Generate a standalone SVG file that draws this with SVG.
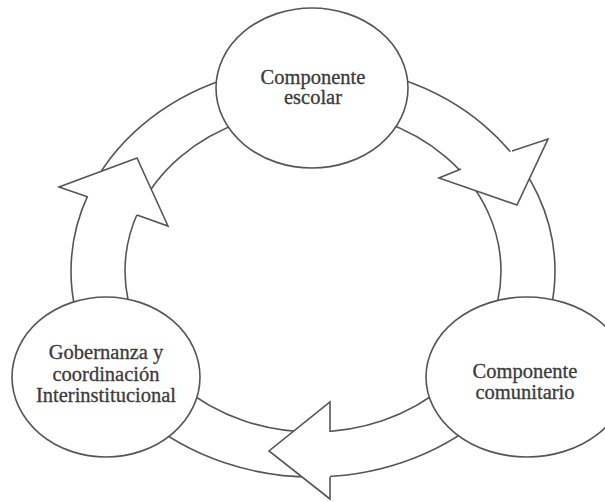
<svg xmlns="http://www.w3.org/2000/svg" width="605" height="502" viewBox="0 0 605 502">
  <style>
    .ring { fill: none; stroke: #555; stroke-width: 1.6; }
    .head { fill: #fff; stroke: #555; stroke-width: 1.6; stroke-linejoin: miter; }
    .node { fill: #fff; stroke: #555; stroke-width: 1.6; }
    text { font-family: 'Liberation Serif', 'DejaVu Serif', serif; font-size: 20.5px; fill: #3a3a3a; text-anchor: middle; stroke: #3a3a3a; stroke-width: 0.3; }
  </style>
  <rect width="605" height="502" fill="#fff"/>
  <g id="connectors">
    <ellipse class="ring" cx="313" cy="271" rx="242" ry="206"/>
    <ellipse class="ring" cx="313" cy="271" rx="188" ry="161"/>
    <path id="arrow-escolar-comunitario" class="head" d="M512,151 L548,139 L517,205 L439,178 L461,169"/>
    <path id="arrow-comunitario-gobernanza" class="head" d="M330,432 L330,402 L269,451 L330,499 L330,477"/>
    <path id="arrow-gobernanza-escolar" class="head" d="M88,197 L59,187 L137,158 L168,226 L137,215"/>
  </g>
  <g id="node-escolar">
    <ellipse class="node" cx="312" cy="88" rx="96" ry="80"/>
    <text x="313" y="84" font-family="Liberation Serif, serif">Componente</text>
    <text x="313" y="104" font-family="Liberation Serif, serif">escolar</text>
  </g>
  <g id="node-comunitario">
    <ellipse class="node" cx="527" cy="377" rx="101" ry="80"/>
    <text x="525" y="378" font-family="Liberation Serif, serif">Componente</text>
    <text x="525" y="399" font-family="Liberation Serif, serif">comunitario</text>
  </g>
  <g id="node-gobernanza">
    <ellipse class="node" cx="106" cy="377" rx="94" ry="80"/>
    <text x="106" y="359" font-family="Liberation Serif, serif">Gobernanza y</text>
    <text x="106" y="381" font-family="Liberation Serif, serif">coordinación</text>
    <text x="106" y="402" font-family="Liberation Serif, serif">Interinstitucional</text>
  </g>
</svg>
